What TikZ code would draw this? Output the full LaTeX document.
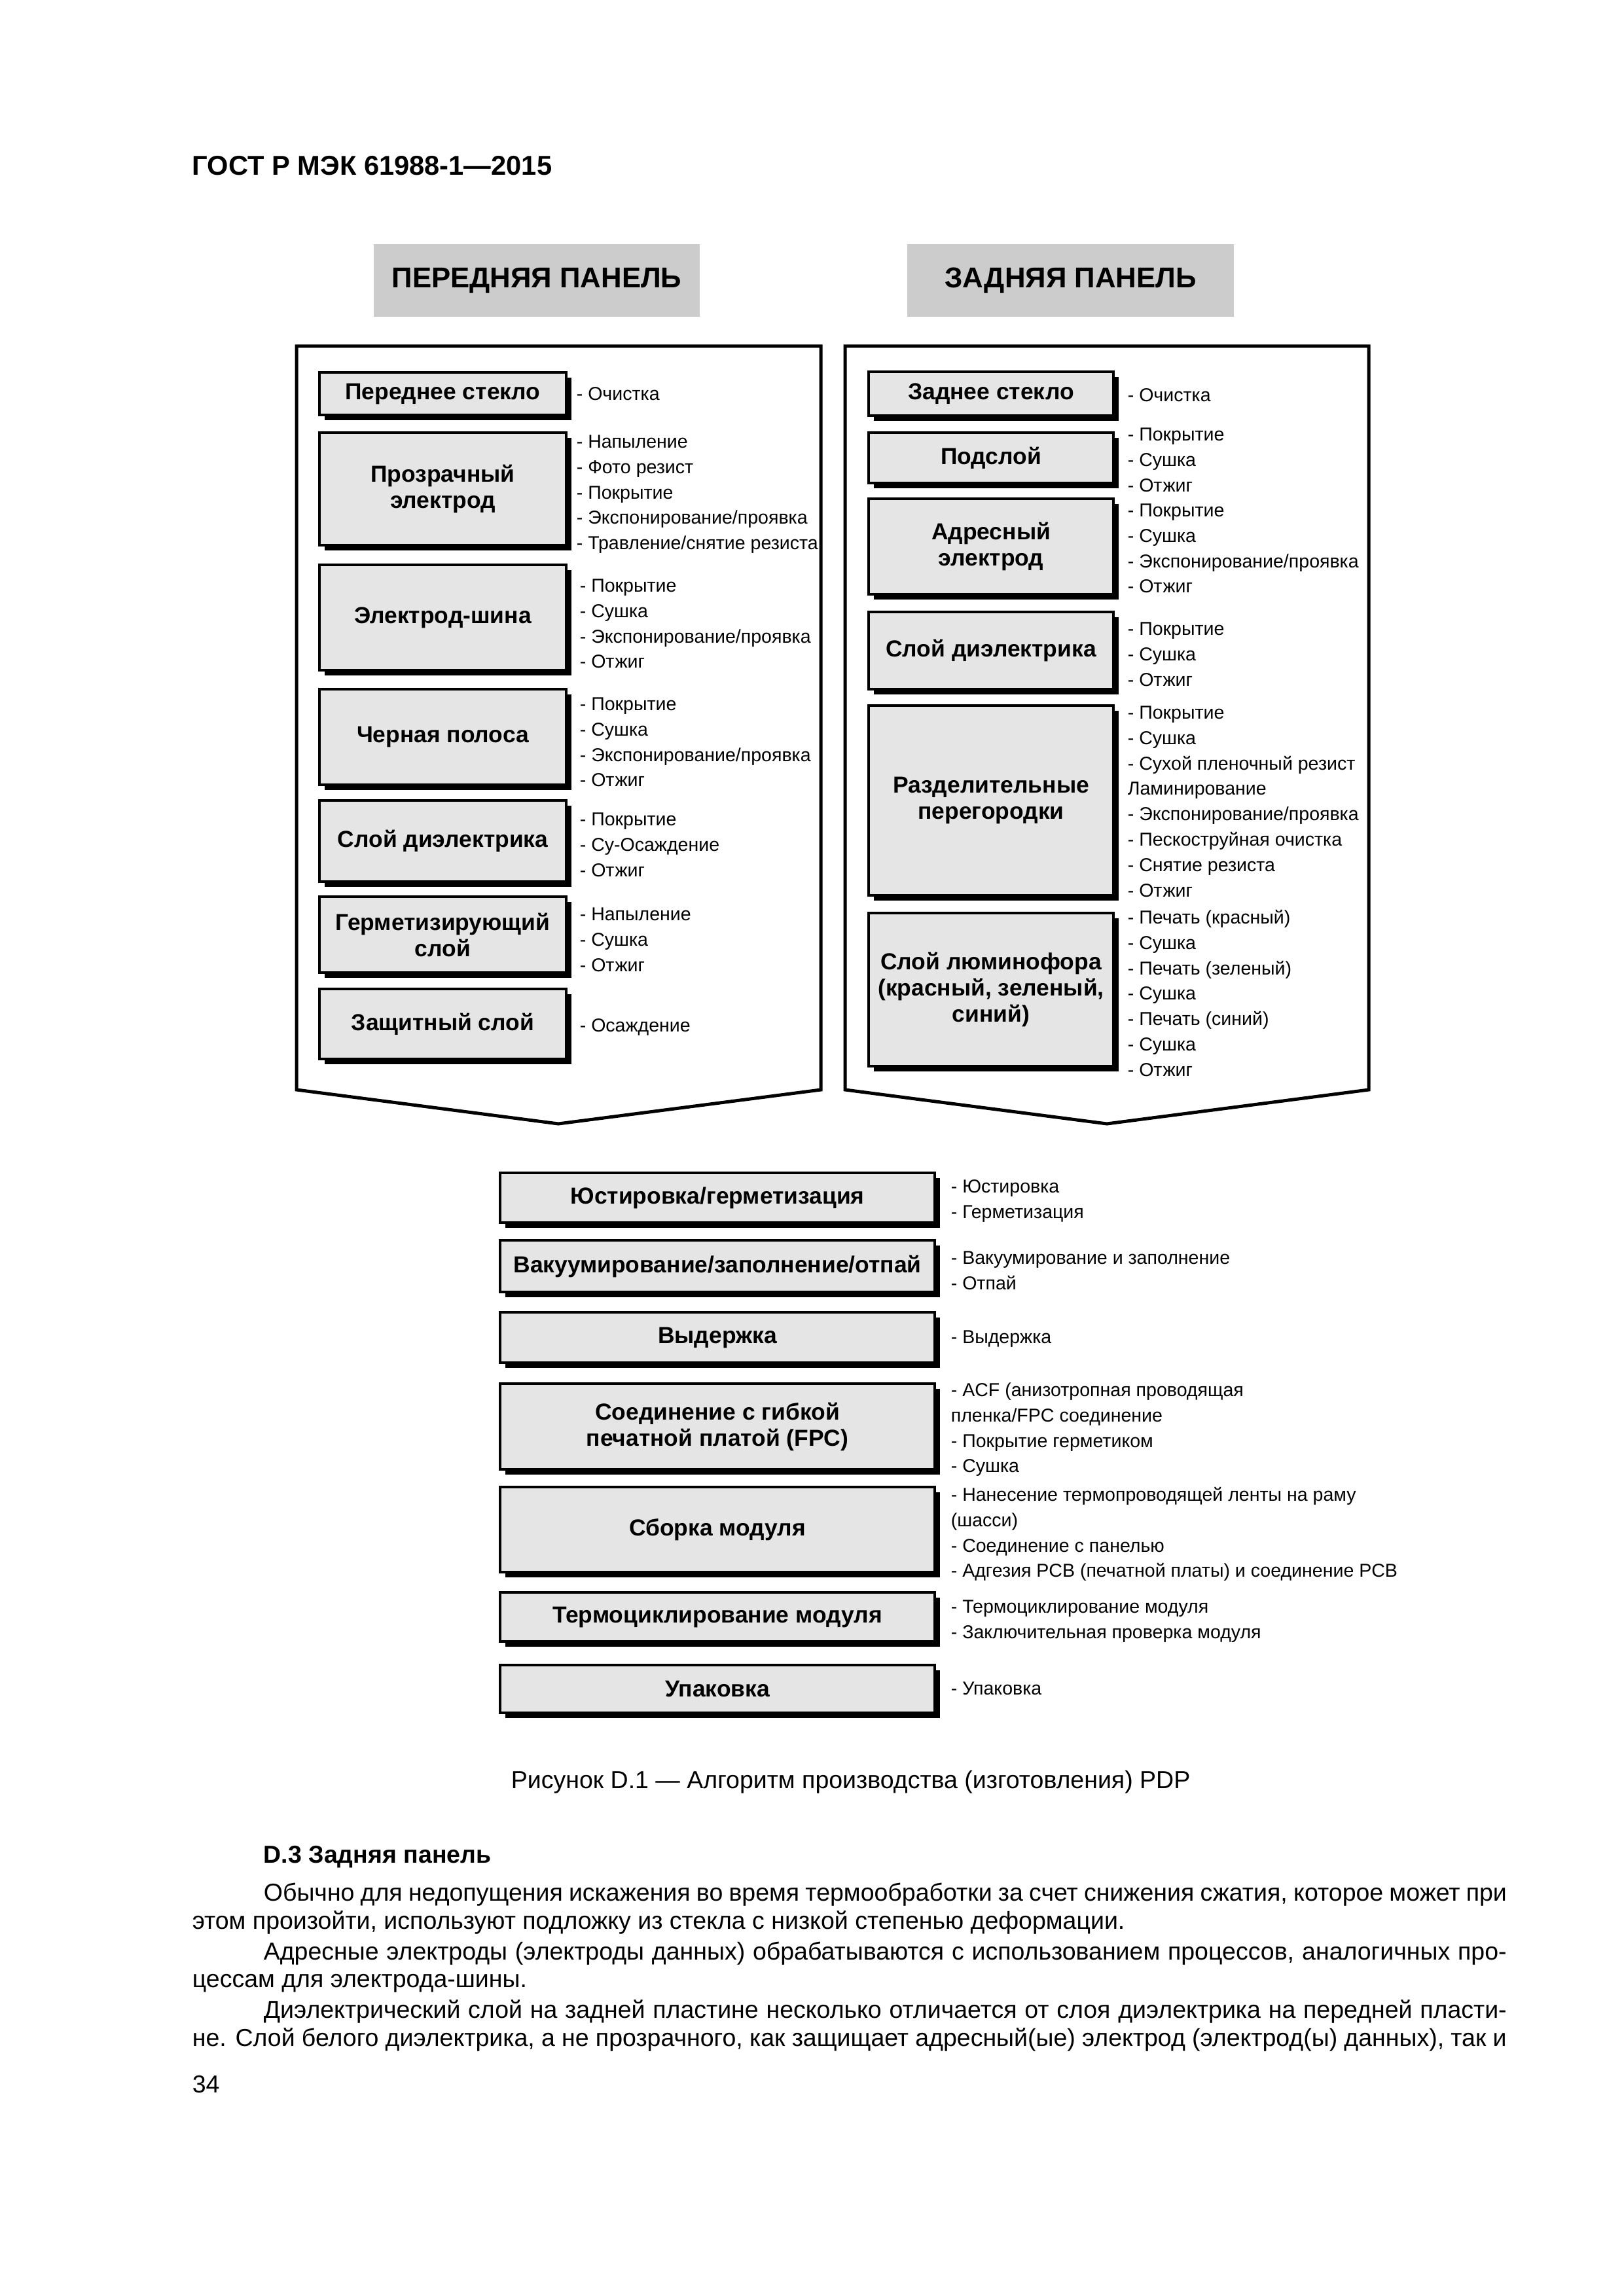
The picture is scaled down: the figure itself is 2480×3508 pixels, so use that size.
\documentclass[tikz,border=0pt]{standalone}
\usepackage{fontspec}
\setmainfont{Liberation Sans}
\usetikzlibrary{shadows}
\newcommand\itemcol[4]{\foreach \t [count=\i] in {#4}{\node[itm] (#1-\i) at (#2,{#3+(\i-1)*38.8}) {\t};}}
% name, style, x1, y1, x2, y2, text
\newcommand\boxat[7]{\node[#2, minimum width={(#5-#3)*0.24pt}, minimum height={(#6-#4)*0.24pt}] (#1) at ({(#3+#5)/2},{(#4+#6)/2}) {#7};}
\begin{document}
\begin{tikzpicture}[x=0.24pt,y=-0.24pt,
  frame/.style={draw=black, line width=1.2pt, line join=miter},
  ttl/.style={fill=black!20, inner sep=0, font=\bfseries\fontsize{10.5}{12}\selectfont},
  pbox/.style={draw=black, line width=1.1pt, fill=black!10, inner sep=0, align=center,
    font=\bfseries\fontsize{8.5}{9.6}\selectfont,
    drop shadow={shadow xshift=1.9pt, shadow yshift=-1.9pt, fill=black, opacity=1}},
  itm/.style={anchor=west, inner sep=0, text height=5pt, text depth=0pt, font=\fontsize{6.85}{8}\selectfont},
  body/.style={anchor=west, inner sep=0, text height=6.45pt, text depth=0pt, font=\fontsize{9}{10}\selectfont},
  hdr/.style={anchor=west, inner sep=0, text height=7.16pt, text depth=0pt, font=\bfseries\fontsize{10}{12}\selectfont}
]
\useasboundingbox (0,0) rectangle (2480,3508);
\fill[white] (0,0) rectangle (2480,3508);

% header
\node[hdr] (header) at (293,253) {ГОСТ Р МЭК 61988-1—2015};

% title boxes
\boxat{tL}{ttl}{571}{373}{1069}{484}{ПЕРЕДНЯЯ ПАНЕЛЬ}
\boxat{tR}{ttl}{1386}{373}{1885}{484}{ЗАДНЯЯ ПАНЕЛЬ}

% frames
\draw[frame] (453,529) -- (1254,529) -- (1254,1665) -- (853,1717) -- (453,1665) -- cycle;
\draw[frame] (1291,529) -- (2091,529) -- (2091,1665) -- (1691,1717) -- (1291,1665) -- cycle;

% left column boxes
\boxat{L1}{pbox}{488}{569}{865}{634}{Переднее стекло}
\boxat{L2}{pbox}{488}{661}{865}{833}{Прозрачный\\электрод}
\boxat{L3}{pbox}{488}{863}{865}{1024}{Электрод-шина}
\boxat{L4}{pbox}{488}{1053}{865}{1199}{Черная полоса}
\boxat{L5}{pbox}{488}{1223}{865}{1347}{Слой диэлектрика}
\boxat{L6}{pbox}{488}{1370}{865}{1486}{Герметизирующий\\слой}
\boxat{L7}{pbox}{488}{1511}{865}{1618}{Защитный слой}

% right column boxes
\boxat{R1}{pbox}{1327}{568}{1701}{635}{Заднее стекло}
\boxat{R2}{pbox}{1327}{661}{1701}{738}{Подслой}
\boxat{R3}{pbox}{1327}{762}{1701}{908}{Адресный\\электрод}
\boxat{R4}{pbox}{1327}{935}{1701}{1053}{Слой диэлектрика}
\boxat{R5}{pbox}{1327}{1078}{1701}{1368}{Разделительные\\перегородки}
\boxat{R6}{pbox}{1327}{1395}{1701}{1629}{Слой люминофора\\(красный, зеленый,\\синий)}

% bottom boxes
\boxat{B1}{pbox}{764}{1792}{1428}{1868}{Юстировка/герметизация}
\boxat{B2}{pbox}{764}{1895}{1428}{1974}{Вакуумирование/заполнение/отпай}
\boxat{B3}{pbox}{764}{2005}{1428}{2082}{Выдержка}
\boxat{B4}{pbox}{764}{2114}{1428}{2245}{Соединение с гибкой\\печатной платой (FPC)}
\boxat{B5}{pbox}{764}{2272}{1428}{2402}{Сборка модуля}
\boxat{B6}{pbox}{764}{2433}{1428}{2508}{Термоциклирование модуля}
\boxat{B7}{pbox}{764}{2544}{1428}{2617}{Упаковка}

% left items
\itemcol{iL1}{880}{601}{{- Очистка}}
\itemcol{iL2}{880}{674}{{- Напыление},{- Фото резист},{- Покрытие},{- Экспонирование/проявка},{- Травление/снятие резиста}}
\itemcol{iL3}{885}{894}{{- Покрытие},{- Сушка},{- Экспонирование/проявка},{- Отжиг}}
\itemcol{iL4}{885}{1075}{{- Покрытие},{- Сушка},{- Экспонирование/проявка},{- Отжиг}}
\itemcol{iL5}{885}{1251}{{- Покрытие},{- Су-Осаждение},{- Отжиг}}
\itemcol{iL6}{885}{1396}{{- Напыление},{- Сушка},{- Отжиг}}
\itemcol{iL7}{885}{1566}{{- Осаждение}}

% right items
\itemcol{iR1}{1722}{603}{{- Очистка}}
\itemcol{iR2}{1722}{663}{{- Покрытие},{- Сушка},{- Отжиг}}
\itemcol{iR3}{1722}{779}{{- Покрытие},{- Сушка},{- Экспонирование/проявка},{- Отжиг}}
\itemcol{iR4}{1722}{960}{{- Покрытие},{- Сушка},{- Отжиг}}
\itemcol{iR5}{1722}{1088}{{- Покрытие},{- Сушка},{- Сухой пленочный резист},{Ламинирование},{- Экспонирование/проявка},{- Пескоструйная очистка},{- Снятие резиста},{- Отжиг}}
\itemcol{iR6}{1722}{1401}{{- Печать (красный)},{- Сушка},{- Печать (зеленый)},{- Сушка},{- Печать (синий)},{- Сушка},{- Отжиг}}

% bottom items
\itemcol{iB1}{1452}{1812}{{- Юстировка},{- Герметизация}}
\itemcol{iB2}{1452}{1921}{{- Вакуумирование и заполнение},{- Отпай}}
\itemcol{iB3}{1452}{2042}{{- Выдержка}}
\itemcol{iB4}{1452}{2123}{{- ACF (анизотропная проводящая},{пленка/FPC соединение},{- Покрытие герметиком},{- Сушка}}
\itemcol{iB5}{1452}{2283}{{- Нанесение термопроводящей ленты на раму},{(шасси)},{- Соединение с панелью},{- Адгезия PCB (печатной платы) и соединение PCB}}
\itemcol{iB6}{1452}{2454}{{- Термоциклирование модуля},{- Заключительная проверка модуля}}
\itemcol{iB7}{1452}{2579}{{- Упаковка}}

% caption
\node[body] (caption) at (780,2719) {Рисунок D.1 — Алгоритм производства (изготовления) PDP};

% body text
\node[body, font=\bfseries\fontsize{9}{10}\selectfont] (sec) at (402,2833) {D.3 Задняя панель};
\node[body] (p1a) at (402,2891) {\makebox[455.76pt][s]{Обычно для недопущения искажения во время термообработки за счет снижения сжатия, которое может при}};
\node[body] (p1b) at (293,2934) {этом произойти, используют подложку из стекла с низкой степенью деформации.};
\node[body] (p2a) at (402,2981) {\makebox[455.76pt][s]{Адресные электроды (электроды данных) обрабатываются с использованием процессов, аналогичных про-}};
\node[body] (p2b) at (293,3023) {цессам для электрода-шины.};
\node[body] (p3a) at (402,3070) {\makebox[455.76pt][s]{Диэлектрический слой на задней пластине несколько отличается от слоя диэлектрика на передней пласти-}};
\node[body] (p3b) at (293,3113) {\makebox[481.92pt][s]{не. Слой белого диэлектрика, а не прозрачного, как защищает адресный(ые) электрод (электрод(ы) данных), так и}};
\node[body] (pnum) at (293,3184) {34};
\end{tikzpicture}
\end{document}
